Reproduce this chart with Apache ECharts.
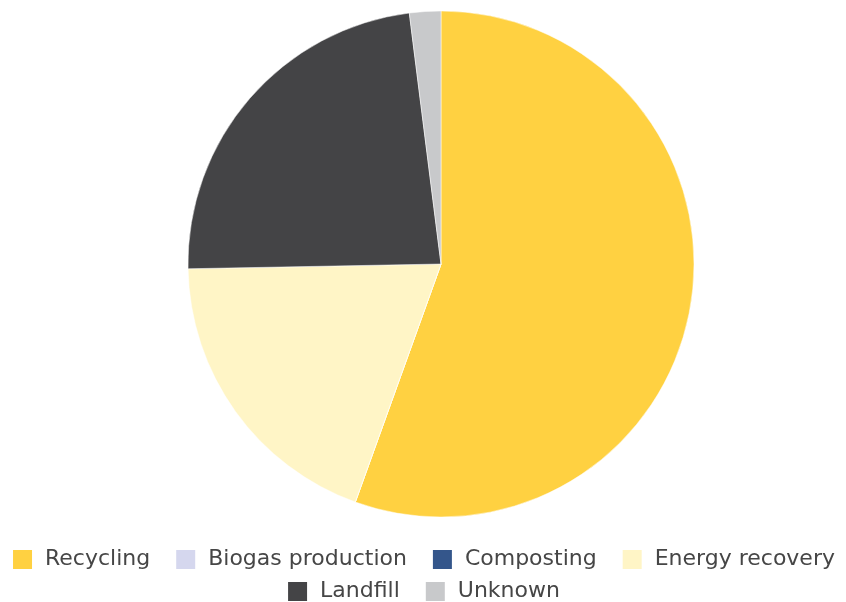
<!DOCTYPE html>
<html>
<head>
<meta charset="utf-8">
<script src="https://cdn.jsdelivr.net/npm/echarts@6/dist/echarts.min.js"></script>
<style>
  html, body { margin: 0; padding: 0; background: #ffffff; }
  #chart { width: 846px; height: 602px; }
</style>
</head>
<body>
<div id="chart"></div>
<script>
// Waste treatment shares (%)
const categories = ['Recycling', 'Biogas production', 'Composting', 'Energy recovery', 'Landfill', 'Unknown'];
const shares = [55.5, 0, 0, 19.2, 23.3, 2.0];
const colors = ['#ffd141', '#d5d7ee', '#34568b', '#fff5c6', '#444446', '#c8c9cb'];

// legend is laid out in two centred rows
const legendRow1 = categories.slice(0, 4);
const legendRow2 = categories.slice(4);

const legendBase = {
  left: 'center',
  itemWidth: 21,
  itemHeight: 21,
  itemGap: 24,
  icon: 'rect',
  selectedMode: false,
  textStyle: {
    fontFamily: '"DejaVu Sans", sans-serif',
    fontSize: 22,
    color: '#464646',
    padding: [0, 0, 0, 7]
  }
};

const chart = echarts.init(document.getElementById('chart'));
chart.setOption({
  animation: false,
  color: colors,
  legend: [
    Object.assign({}, legendBase, { data: legendRow1, top: 543 }),
    Object.assign({}, legendBase, { data: legendRow2, top: 575 })
  ],
  series: [{
    type: 'pie',
    center: [441, 264],
    radius: 253,
    startAngle: 90,
    clockwise: true,
    label: { show: false },
    labelLine: { show: false },
    itemStyle: { borderColor: '#ffffff', borderWidth: 0.5 },
    emphasis: { disabled: true },
    data: categories.map((name, i) => ({ name: name, value: shares[i] }))
  }]
});
</script>
</body>
</html>
